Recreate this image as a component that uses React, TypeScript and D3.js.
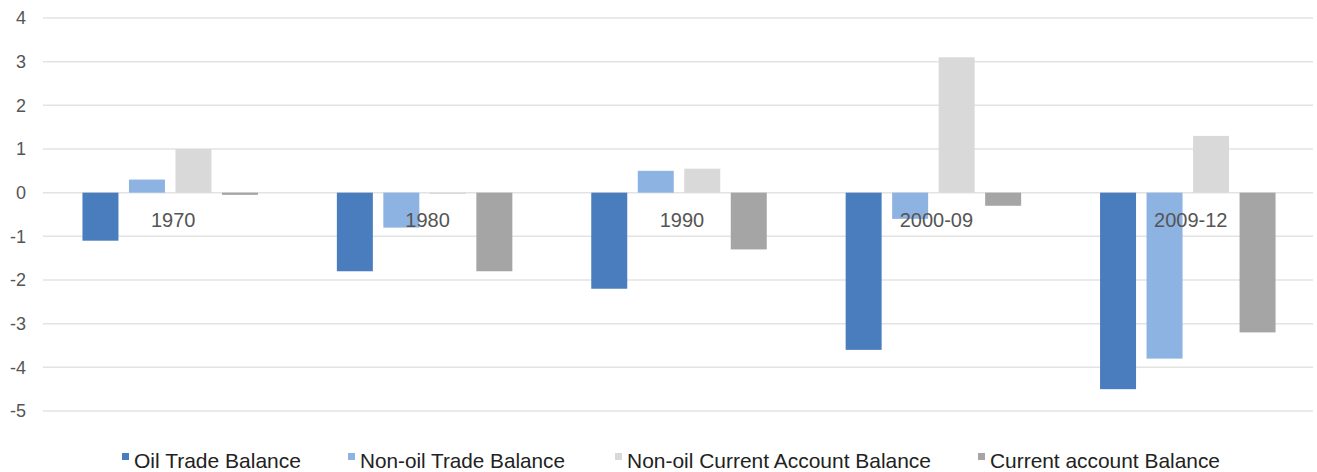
import React from "react";
import * as d3 from "d3";

const categories = ["1970", "1980", "1990", "2000-09", "2009-12"];
const seriesNames = [
  "Oil Trade Balance",
  "Non-oil Trade Balance",
  "Non-oil Current Account Balance",
  "Current account Balance",
];
const oilTrade = [-1.1, -1.8, -2.2, -3.6, -4.5];
const nonOilTrade = [0.3, -0.8, 0.5, -0.6, -3.8];
const nonOilCurrentAccount = [1.0, -0.03, 0.55, 3.1, 1.3];
const currentAccount = [-0.05, -1.8, -1.3, -0.3, -3.2];
const yTicks = [4, 3, 2, 1, 0, -1, -2, -3, -4, -5];

const seriesValues = [oilTrade, nonOilTrade, nonOilCurrentAccount, currentAccount];
const colors = ["#4a7dbd", "#8db3e2", "#d9d9d9", "#a5a5a5"];

const W = 1317;
const H = 472;
const plot = { left: 43, right: 1315, top: 18, bottom: 411 };

// legend item x positions (square left edge) and text widths
const legendX = [122, 348, 615, 978];
const legendTextW = [167, 205, 304, 230];

export default function App() {
  const x0 = d3
    .scaleBand<string>()
    .domain(categories)
    .range([plot.left, plot.right])
    .paddingInner(0)
    .paddingOuter(0);

  const groupW = 175.5;
  const x1 = d3
    .scaleBand<number>()
    .domain(d3.range(seriesNames.length))
    .range([0, groupW])
    .paddingInner(0.226)
    .paddingOuter(0);

  const y = d3.scaleLinear().domain([-5, 4]).range([plot.bottom, plot.top]);

  const font = "'Liberation Sans', Arial, Helvetica, sans-serif";

  return (
    <svg
      width={W}
      height={H}
      style={{ position: "absolute", left: 0, top: 0, background: "#fff" }}
      fontFamily={font}
    >
      {/* gridlines */}
      {yTicks.map((t) => (
        <line
          key={"g" + t}
          x1={plot.left}
          x2={plot.right - 2}
          y1={y(t)}
          y2={y(t)}
          stroke="#e3e3e3"
          strokeWidth={1.5}
        />
      ))}
      {/* y tick labels */}
      {yTicks.map((t) => (
        <text
          key={"t" + t}
          x={26}
          y={y(t)}
          dy="0.36em"
          textAnchor="end"
          fontSize={18}
          fill="#555"
        >
          {t}
        </text>
      ))}
      {/* bars */}
      {categories.map((c, ci) => {
        const gx = (x0(c) as number) + (x0.bandwidth() - groupW) / 2;
        return seriesValues.map((vals, si) => {
          const v = vals[ci];
          const top = y(Math.max(0, v));
          const h = Math.abs(y(v) - y(0));
          return (
            <rect
              key={c + si}
              x={gx + (x1(si) as number)}
              y={top}
              width={x1.bandwidth()}
              height={Math.max(h, 0.5)}
              fill={colors[si]}
            />
          );
        });
      })}
      {/* category labels along the zero line */}
      {categories.map((c) => (
        <text
          key={"c" + c}
          x={(x0(c) as number) + x0.bandwidth() / 2 + 3}
          y={y(0) + 27}
          dy="0.36em"
          textAnchor="middle"
          fontSize={20}
          fill="#555"
        >
          {c}
        </text>
      ))}
      {/* legend */}
      {seriesNames.map((n, i) => (
        <g key={"l" + n}>
          <rect x={legendX[i]} y={453} width={7} height={7} fill={colors[i]} />
          <text
            x={legendX[i] + 12}
            y={468}
            fontSize={21}
            fill="#222"
            textLength={legendTextW[i]}
            lengthAdjust="spacingAndGlyphs"
          >
            {n}
          </text>
        </g>
      ))}
    </svg>
  );
}
